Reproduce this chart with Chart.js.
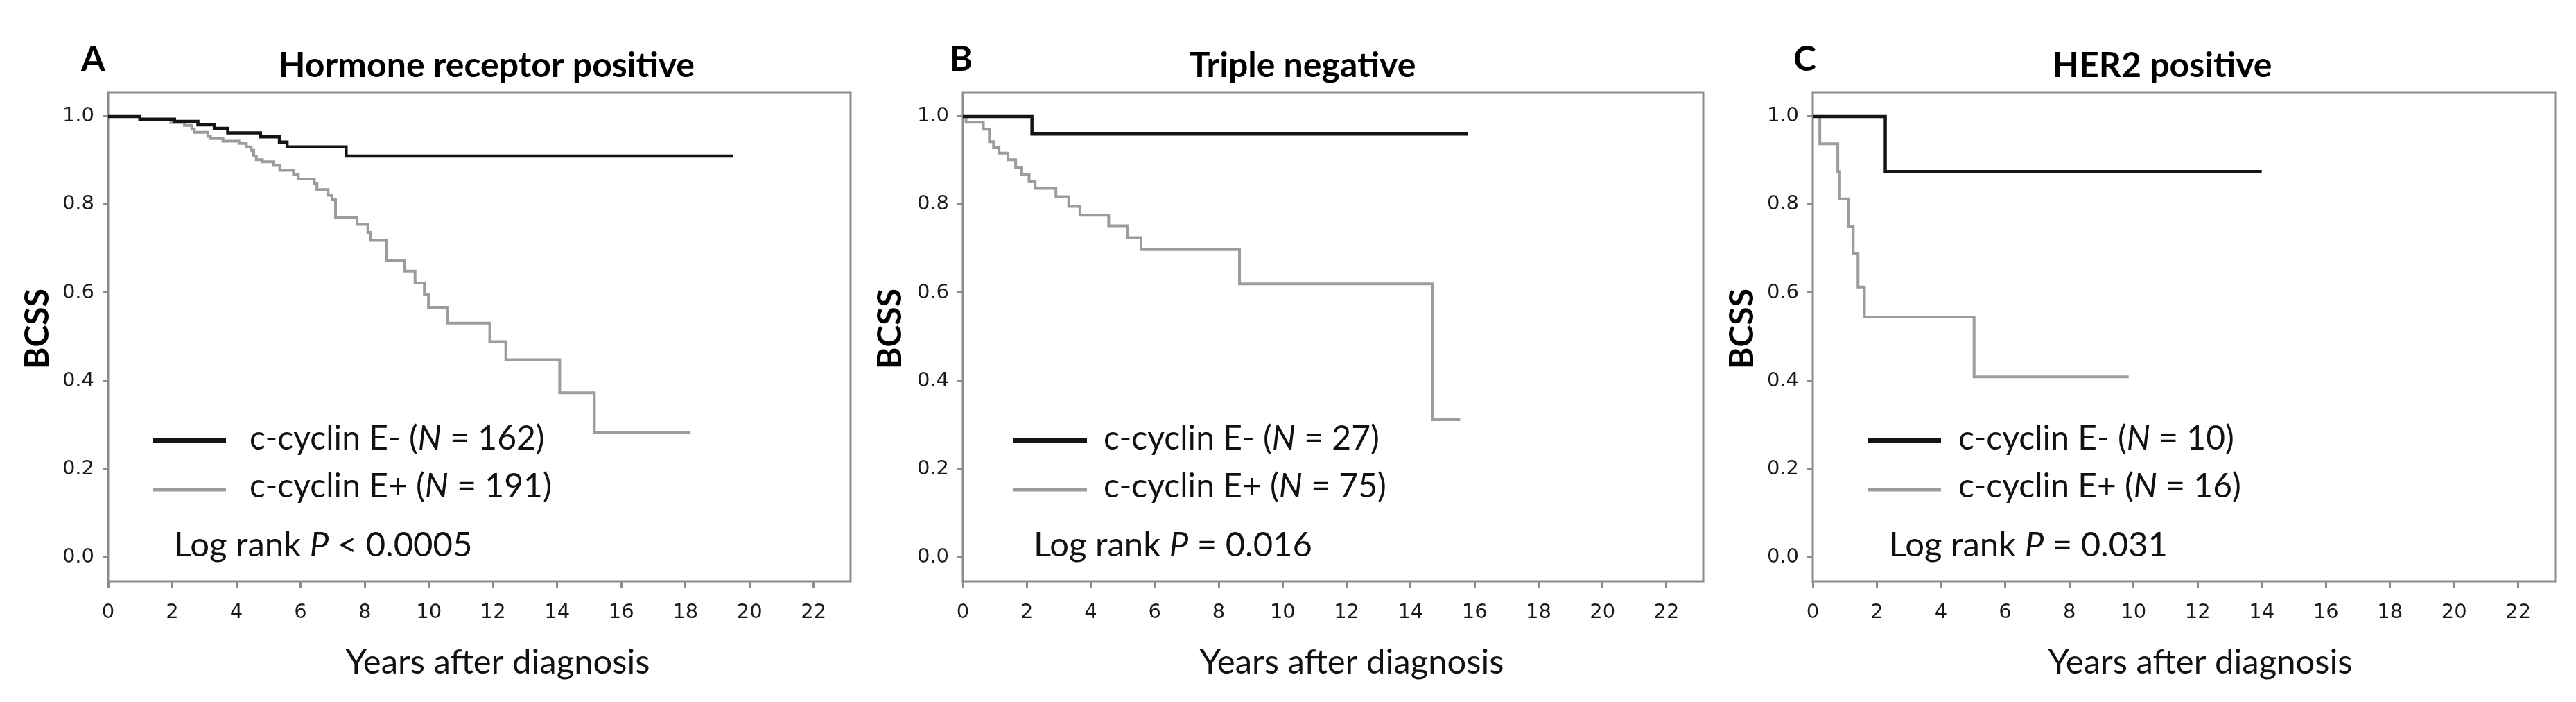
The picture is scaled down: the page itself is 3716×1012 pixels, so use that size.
<!DOCTYPE html>
<html>
<head>
<meta charset="utf-8">
<script src="https://cdn.jsdelivr.net/npm/chart.js@4.4.1/dist/chart.umd.min.js"></script>
<style>
  html, body { margin: 0; padding: 0; background: #fff; }
  #wrap { position: relative; width: 3716px; height: 1012px; }
  #wrap canvas { position: absolute; top: 0; }
</style>
</head>
<body>
<div id="wrap">
  <canvas id="chartA" width="1240" height="1012" style="left:0px"></canvas>
  <canvas id="chartB" width="1240" height="1012" style="left:1240px"></canvas>
  <canvas id="chartC" width="1236" height="1012" style="left:2480px"></canvas>
</div>
<script>
// ====== DATA ======
const xTicks = [0, 2, 4, 6, 8, 10, 12, 14, 16, 18, 20, 22];
const yTicks = [0.0, 0.2, 0.4, 0.6, 0.8, 1.0];

// A - Hormone receptor positive
const aNegT = [0, 0.99, 2.07, 2.80, 3.31, 3.73, 4.75, 5.34, 5.58, 7.42, 19.48];
const aNegS = [1.0, 0.994, 0.989, 0.981, 0.973, 0.963, 0.954, 0.942, 0.931, 0.910, 0.910];
const aPosT = [0, 0.99, 1.96, 2.38, 2.61, 2.69, 3.11, 3.19, 3.58, 4.08, 4.31, 4.46, 4.54, 4.62, 4.81, 5.16, 5.35, 5.78, 5.93, 6.43, 6.51, 6.86, 6.98, 7.09, 7.76, 8.10, 8.17, 8.67, 9.24, 9.57, 9.86, 9.99, 10.57, 11.90, 12.40, 14.08, 15.16, 18.16];
const aPosS = [1.0, 0.993, 0.986, 0.980, 0.971, 0.964, 0.955, 0.950, 0.944, 0.939, 0.931, 0.923, 0.910, 0.902, 0.897, 0.889, 0.878, 0.868, 0.858, 0.847, 0.834, 0.821, 0.811, 0.771, 0.755, 0.737, 0.719, 0.674, 0.649, 0.622, 0.597, 0.567, 0.531, 0.489, 0.448, 0.373, 0.282, 0.282];

// B - Triple negative
const bNegT = [0, 2.16, 15.78];
const bNegS = [1.0, 0.960, 0.960];
const bPosT = [0, 0.10, 0.64, 0.83, 0.96, 1.13, 1.41, 1.65, 1.84, 2.07, 2.26, 2.91, 3.31, 3.66, 4.56, 5.15, 5.57, 8.65, 14.69, 15.55];
const bPosS = [1.0, 0.987, 0.971, 0.943, 0.929, 0.917, 0.902, 0.884, 0.868, 0.852, 0.837, 0.818, 0.796, 0.776, 0.752, 0.725, 0.698, 0.620, 0.312, 0.312];

// C - HER2 positive
const cNegT = [0, 2.26, 14.0];
const cNegS = [1.0, 0.875, 0.875];
const cPosT = [0, 0.22, 0.78, 0.84, 1.12, 1.26, 1.41, 1.61, 5.03, 9.85];
const cPosS = [1.0, 0.938, 0.875, 0.813, 0.750, 0.688, 0.613, 0.545, 0.409, 0.409];

const titles = ['Hormone receptor positive', 'Triple negative', 'HER2 positive'];
const letters = ['A', 'B', 'C'];
const negN = [162, 27, 10];
const posN = [191, 75, 16];
const logRank = ['< 0.0005', '= 0.016', '= 0.031'];

// ====== STYLE ======
const BLACK = '#141414';
const GREY = '#9c9c9c';
const AXIS = '#8c8c8c';
const LABEL_FONT = 'Lato, "Open Sans", sans-serif';
const TICK_FONT = '"DejaVu Sans", Verdana, sans-serif';

// layout per panel (canvas px, offsets relative to plot left edge)
const layouts = [
  { id: 'chartA', left: 156, padR: 13, letterX: -39, titleX: 546, yTitleX: -101, xTitleX: 562, legLine: [65, 170], legText: 204, logX: 95 },
  { id: 'chartB', left: 149, padR: 23, letterX: -19, titleX: 490, yTitleX: -104, xTitleX: 561, legLine: [72, 179], legText: 203, logX: 102 },
  { id: 'chartC', left: 135, padR: 30, letterX: -28, titleX: 504, yTitleX: -101, xTitleX: 559, legLine: [80, 185], legText: 210, logX: 110 }
];

function toPoints(t, s) {
  return t.map((v, i) => ({ x: v, y: s[i] }));
}

// draws a run of [text, italic] pieces starting at x
function drawRuns(ctx, runs, x, y, size) {
  runs.forEach(([txt, italic]) => {
    ctx.font = (italic ? 'italic ' : '') + size + 'px ' + LABEL_FONT;
    ctx.fillText(txt, x, y);
    x += ctx.measureText(txt).width;
  });
}

// ====== PLUGINS ======
const framePlugin = {
  id: 'frame',
  beforeDatasetsDraw(chart) {
    const { ctx, chartArea: a } = chart;
    ctx.save();
    ctx.strokeStyle = AXIS;
    ctx.lineWidth = 3;
    ctx.strokeRect(a.left, a.top, a.right - a.left, a.bottom - a.top);
    ctx.restore();
  }
};

const textPlugin = {
  id: 'panelText',
  afterDraw(chart, args, opts) {
    const { ctx, chartArea: a } = chart;
    const L = opts.layout;
    const i = opts.index;
    const x0 = a.left;
    ctx.save();
    ctx.fillStyle = '#000';
    ctx.textBaseline = 'alphabetic';

    // panel letter
    ctx.textAlign = 'left';
    ctx.font = 'bold 50px ' + LABEL_FONT;
    ctx.fillText(letters[i], x0 + L.letterX, 102);

    // title
    ctx.textAlign = 'center';
    ctx.font = 'bold 50px ' + LABEL_FONT;
    ctx.fillText(titles[i], x0 + L.titleX, 111);

    // x title
    ctx.font = '49px ' + LABEL_FONT;
    ctx.fillStyle = '#111';
    ctx.fillText('Years after diagnosis', x0 + L.xTitleX, 971);

    // y title
    ctx.save();
    ctx.translate(x0 + L.yTitleX, 474);
    ctx.rotate(-Math.PI / 2);
    ctx.textBaseline = 'middle';
    ctx.font = 'bold 48px ' + LABEL_FONT;
    ctx.fillStyle = '#000';
    ctx.fillText('BCSS', 0, 0);
    ctx.restore();

    // legend
    ctx.lineCap = 'butt';
    ctx.strokeStyle = BLACK;
    ctx.lineWidth = 6;
    ctx.beginPath();
    ctx.moveTo(x0 + L.legLine[0], 635);
    ctx.lineTo(x0 + L.legLine[1], 635);
    ctx.stroke();
    ctx.strokeStyle = GREY;
    ctx.lineWidth = 5;
    ctx.beginPath();
    ctx.moveTo(x0 + L.legLine[0], 706);
    ctx.lineTo(x0 + L.legLine[1], 706);
    ctx.stroke();

    ctx.textAlign = 'left';
    ctx.fillStyle = '#111';
    drawRuns(ctx, [['c-cyclin E- (', false], ['N', true], [' = ' + negN[i] + ')', false]], x0 + L.legText, 648, 48);
    drawRuns(ctx, [['c-cyclin E+ (', false], ['N', true], [' = ' + posN[i] + ')', false]], x0 + L.legText, 717, 48);

    // log rank
    drawRuns(ctx, [['Log rank ', false], ['P', true], [' ' + logRank[i], false]], x0 + L.logX, 802, 49);
    ctx.restore();
  }
};

// ====== CHARTS ======
function makePanel(index, negT, negS, posT, posS) {
  const L = layouts[index];
  const canvas = document.getElementById(L.id);
  return new Chart(canvas, {
    type: 'line',
    data: {
      datasets: [
        { label: 'c-cyclin E-', data: toPoints(negT, negS), borderColor: BLACK, borderWidth: 4.5, stepped: true, pointRadius: 0, fill: false },
        { label: 'c-cyclin E+', data: toPoints(posT, posS), borderColor: GREY, borderWidth: 4, stepped: true, pointRadius: 0, fill: false }
      ]
    },
    options: {
      responsive: false,
      animation: false,
      devicePixelRatio: 1,
      layout: { padding: { top: 133, right: L.padR, left: 0, bottom: 0 } },
      plugins: {
        legend: { display: false },
        tooltip: { enabled: false },
        title: { display: false },
        panelText: { index: index, layout: L }
      },
      scales: {
        x: {
          type: 'linear',
          min: 0,
          max: 23.15,
          afterBuildTicks: s => { s.ticks = xTicks.map(v => ({ value: v })); },
          ticks: {
            autoSkip: false,
            maxRotation: 0,
            padding: 18,
            color: '#1a1a1a',
            font: { family: TICK_FONT, size: 29 }
          },
          grid: { drawOnChartArea: false, drawTicks: true, tickLength: 10, color: AXIS, lineWidth: 3 },
          border: { display: false },
          afterFit: s => { s.height = 174; }
        },
        y: {
          min: -0.055,
          max: 1.055,
          afterBuildTicks: s => { s.ticks = yTicks.map(v => ({ value: v })); },
          ticks: {
            padding: 12,
            color: '#1a1a1a',
            font: { family: TICK_FONT, size: 29 },
            callback: v => Number(v).toFixed(1)
          },
          grid: { drawOnChartArea: false, drawTicks: true, tickLength: 8, color: AXIS, lineWidth: 3 },
          border: { display: false },
          afterFit: s => { s.width = L.left; }
        }
      }
    },
    plugins: [framePlugin, textPlugin]
  });
}

makePanel(0, aNegT, aNegS, aPosT, aPosS);
makePanel(1, bNegT, bNegS, bPosT, bPosS);
makePanel(2, cNegT, cNegS, cPosT, cPosS);
</script>
</body>
</html>
